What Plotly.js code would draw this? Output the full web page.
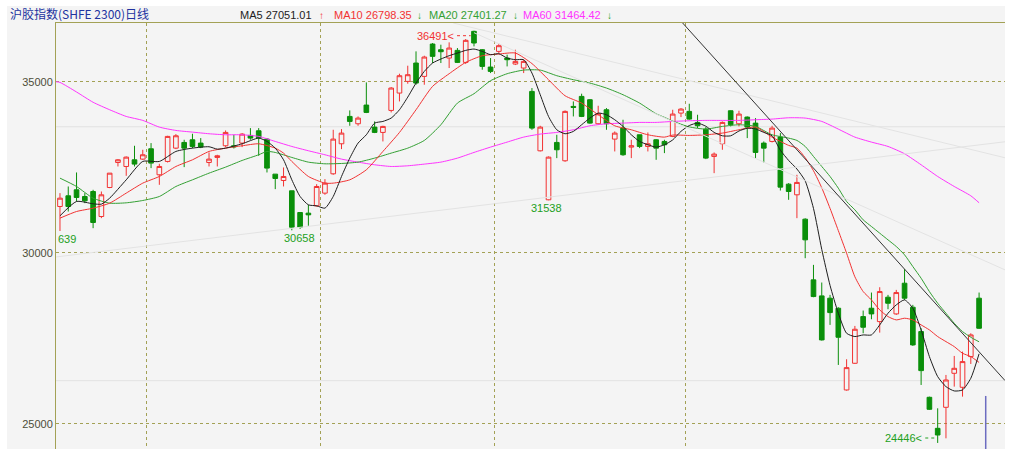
<!DOCTYPE html>
<html>
<head>
<meta charset="utf-8">
<script src="https://cdn.plot.ly/plotly-3.0.1.min.js"></script>
<style>
  html, body { margin: 0; padding: 0; background: #ffffff; }
  #chart { width: 1011px; height: 449px; }
</style>
</head>
<body>
<div id="chart"></div>
<script>
///////////////////////////////////////////////  data  /////////////////////////////////////////////////////////
// daily candles, left to right (112 days)
var openP = [
  31355,31667,31842,31647,31793,31062,31910,32641,32524,32719,
  32739,33041,32281,32671,33060,33226,33304,33207,32641,32788,
  33129,33129,33207,33431,33567,33324,32300,32115,31813,31179,
  31160,31374,31745,32310,33187,33986,33772,34318,33674,33519,
  34162,34669,35010,35546,35156,36101,35935,35692,35916,35565,
  36472,35935,35429,35887,35692,35517,35400,34717,32982,31550,
  33226,32690,34279,34571,34474,33772,34181,33324,33645,33090,
  33450,33109,33304,33255,33402,34084,34133,33811,33616,32817,
  33187,34152,33772,33967,33791,33207,33255,33382,32007,31696,
  30984,29211,28743,28675,28382,25994,26774,28138,28382,27992,
  28704,28216,29113,28411,27700,25780,24873,25487,26481,26072,
  26969,28675];
var highP = [
  31745,31939,32349,31745,31842,31793,32329,32739,32817,33129,
  33012,33207,32602,33421,33470,33304,33480,33353,32934,32866,
  33577,33450,33499,33645,33645,33353,32300,32495,31813,31179,
  31403,32007,32154,33596,33616,34162,33986,34981,33840,33713,
  34844,35234,35468,35887,35760,36131,36082,36150,35984,36248,
  36491,35955,35692,36111,35790,35935,35643,34815,33713,32817,
  33450,34162,34425,34650,34493,34298,34230,33548,33889,33304,
  33450,33518,33324,33304,34181,34230,34357,34035,33674,32934,
  33840,34162,34152,33986,33938,33255,33713,33499,32037,32281,
  31010,29649,29133,28772,28411,26891,27865,28314,28840,28996,
  28772,28918,29523,28480,27797,25799,25458,26433,26988,27115,
  27651,28840];
var lowP = [
  30639,31208,31501,31452,30721,31014,31890,32524,32251,32524,
  32719,32476,31988,32641,33031,32505,33060,33060,32524,32524,
  33090,33050,33090,33304,32836,32349,31862,31940,30658,30700,
  30789,31355,31696,32281,33031,33713,33713,34084,33499,33255,
  34103,34425,34942,34912,34912,35546,35546,35400,35546,35517,
  36033,35351,35253,35838,35448,35487,35253,33596,32963,31538,
  32768,32661,33986,33967,33772,33743,33596,32963,32836,32768,
  33060,32963,32719,32914,33382,33967,33889,33645,32739,32329,
  33012,33694,33694,33353,32768,32641,33226,31822,31550,31014,
  29844,28704,27437,27895,26725,25975,26754,27651,28060,27670,
  28353,28187,28626,27281,26140,25409,24446,24581,26092,25799,
  26754,27778];
var closeP = [
  31598,31355,31618,31520,30887,31696,32329,32719,32797,32593,
  32866,32622,32524,33402,33421,33060,33109,33090,32739,32836,
  33519,33100,33470,33353,33353,32476,32173,32232,30750,30750,
  31111,31939,32037,33324,33499,33840,33938,34103,33519,33694,
  34815,35176,35205,34961,35721,35741,35877,35984,35565,36209,
  36131,35448,35302,36053,35643,35594,35594,33645,33674,32797,
  33012,34133,34250,33986,33791,34064,33772,33499,32866,33129,
  33109,33187,33060,33158,34055,34201,33908,33713,32768,32885,
  33811,33743,34055,33674,32934,33060,33645,31920,31793,32057,
  30380,28723,27456,28255,27534,26647,27768,27826,28216,28869,
  28528,28840,28675,27310,26559,25429,24678,26286,26627,26823,
  27602,27797];

// moving averages (day index, value)
var ma5Day = [0,2,4,5,6,8,10,12,14,16,18,19,20,22,24,25,26,27,28,29,30,31,32,33,34,35,36,37,38,39,40,41,42,43,44,45,46,47,48,49,50,51,52,53,54,55,56,57,58,59,60,61,62,63,64,65,66,67,68,69,70,71,72,73,74,75,76,77,78,79,80,81,82,83,84,85,86,87,88,89,90,91,92,93,94,95,96,97,98,99,100,101,102,103,104,105,106,107,108,109,110,111];
var ma5Val = [31082,31501,31433,31423,31598,32134,32671,32671,32963,33060,33100,33030,33060,33187,33353,33255,33060,32719,32134,31647,31403,31374,31306,31647,32232,32768,33207,33450,33791,33840,33938,34181,34551,34961,35302,35546,35663,35760,35838,35916,35955,35887,35790,35819,35692,35643,35643,35253,34620,33986,33596,33480,33548,33743,33938,34084,34035,33889,33694,33450,33255,33158,33090,33158,33300,33550,33720,33790,33700,33520,33420,33420,33560,33640,33620,33520,33420,33000,32700,32450,32100,31300,30100,29050,28236,27651,27554,27602,27602,27895,28236,28480,28626,28382,27749,26969,26384,26092,25965,25994,26335,27051];

var ma10Day = [0,2,4,6,8,10,12,14,16,18,20,22,24,26,27,28,30,32,33,35,37,39,41,43,45,47,49,51,53,55,57,59,61,63,65,67,69,71,73,74,76,78,80,82,84,86,88,89,90,91,92,93,94,95,96,97,98,99,100,101,102,103,104,105,106,107,108,109,110,111];
var ma10Val = [31014,31208,31306,31452,31745,32037,32232,32524,32719,32963,33060,33129,33187,33060,32914,32671,32232,32037,32037,32134,32427,32963,33518,34181,34864,35234,35565,35760,35809,35838,35530,35059,34590,34376,34035,33713,33596,33450,33382,33441,33431,33450,33499,33596,33674,33380,33140,33060,32780,32400,31900,31300,30650,29990,29300,28870,28626,28333,28138,28041,28090,28041,27895,27749,27554,27407,27261,27066,26969,26798];

var ma20Day = [0,2,4,6,8,10,12,14,16,18,20,22,24,25,26,28,30,32,34,36,38,40,42,44,46,48,50,52,54,56,58,60,62,64,66,68,70,72,73,74,76,78,80,82,84,86,88,89,90,91,92,93,94,95,96,97,98,99,100,101,102,103,104,105,106,107,108,109,110,111];
var ma20Val = [32183,31939,31598,31452,31462,31530,31647,31939,32134,32329,32505,32700,32866,32963,32934,32788,32651,32602,32612,32651,32768,32914,33060,33285,33743,34376,34650,35030,35234,35340,35340,35176,35059,34961,34815,34620,34376,34064,33960,33850,33680,33616,33694,33743,33694,33450,33353,33285,33109,32817,32524,32232,31890,31501,31257,30965,30770,30575,30380,30185,29942,29600,29259,28869,28528,28236,27943,27700,27534,27401];

var ma60Day = [-0.48,0,2,4,6,8,10,12,14,16,18,20,22,24,26,28,30,32,34,36,38,40,42,44,46,48,50,52,54,56,58,60,62,64,66,68,70,72,74,76,78,80,82,84,86,88,90,92,94,96,98,100,102,104,106,108,110,111];
var ma60Val = [35000,34980,34700,34400,34181,33986,33870,33674,33577,33528,33480,33450,33450,33402,33255,33109,32983,32866,32739,32651,32573,32524,32544,32593,32651,32768,32934,33090,33236,33382,33470,33519,33596,33713,33772,33791,33811,33811,33840,33860,33870,33870,33870,33889,33908,33947,33938,33840,33616,33382,33236,33109,32895,32573,32232,31939,31667,31464];

// header values
var maNames  = ['MA5', 'MA10', 'MA20', 'MA60'];
var maLast   = ['27051.01', '26798.35', '27401.27', '31464.42'];
var maArrows = ['\u2191', '\u2193', '\u2193', '\u2193'];

// hand drawn lines on the chart: [day0, price0, day1, price1]
var trendBlack = [75.2, 36716, 114.13, 26269];
var trendGrey  = [[-0.48, 29880, 114.13, 33246], [50, 36433, 114.13, 29503], [47.5, 36716, 114.13, 32778]];
var flatGrey   = [33684, 26266];
var monthSplit = [10.5, 31.5, 52.5, 75.5];
var priceTicks = [25000, 30000, 35000];


///////////////////////////////////////////////  style  /////////////////////////////////////////////////////////
var OLIVE = '#a3a155';
var UP = '#f23232';
var DOWN = '#0a8f0a';
var BG = '#f4f4f4';
var FONT = 'Liberation Sans, Arial, sans-serif';
var maColors = ['#1e1e1e', '#f23232', '#33a033', '#ff33ff'];
var arrowColors = [UP, '#22a022', '#22a022', '#22a022'];

// pixel -> paper (plot box is x 56..1005, y 23..449)
function pxX(x) { return (x - 56) / 949; }
function pxY(y) { return 1 - (y - 23) / 426; }


///////////////////////////////////////////////  traces  /////////////////////////////////////////////////////////
var dayIdx = [];
for (var i = 0; i < closeP.length; i++) { dayIdx.push(i); }

var traces = [{
  type: 'candlestick',
  x: dayIdx, open: openP, high: highP, low: lowP, close: closeP,
  increasing: { line: { color: UP, width: 1 }, fillcolor: BG },
  decreasing: { line: { color: DOWN, width: 1 }, fillcolor: DOWN },
  whiskerwidth: 0,
  hoverinfo: 'skip'
}];

function maTrace(xs, ys, color) {
  return { type: 'scatter', mode: 'lines', x: xs, y: ys,
           line: { color: color, width: 1, shape: 'spline', smoothing: 0.6 }, hoverinfo: 'skip' };
}
traces.push(maTrace(ma60Day, ma60Val, maColors[3]));
traces.push(maTrace(ma20Day, ma20Val, maColors[2]));
traces.push(maTrace(ma10Day, ma10Val, maColors[1]));
traces.push(maTrace(ma5Day, ma5Val, maColors[0]));


///////////////////////////////////////////////  shapes / labels  /////////////////////////////////////////////////
var shapes = [
  // grey panel behind title and price labels
  { type: 'rect', xref: 'paper', yref: 'paper', x0: pxX(7), x1: 1, y0: 0, y1: pxY(6),
    fillcolor: BG, line: { width: 0 }, layer: 'below' }
];
flatGrey.forEach(function (p) {
  shapes.push({ type: 'line', xref: 'paper', yref: 'y', x0: 0, x1: 1, y0: p, y1: p,
                line: { color: '#e2e2e2', width: 1 }, layer: 'below' });
});
trendGrey.forEach(function (t) {
  shapes.push({ type: 'line', xref: 'x', yref: 'y', x0: t[0], y0: t[1], x1: t[2], y1: t[3],
                line: { color: '#e3e3e3', width: 1 } });
});
shapes.push({ type: 'line', xref: 'x', yref: 'y', x0: trendBlack[0], y0: trendBlack[1], x1: trendBlack[2], y1: trendBlack[3],
              line: { color: '#333333', width: 1 } });
// blue cursor mark at the right
shapes.push({ type: 'line', xref: 'x', yref: 'y', x0: 111.8, x1: 111.8, y0: 25819, y1: 24269,
              line: { color: '#6c6cc0', width: 1.5 } });
// dotted leaders of the high / low labels
shapes.push({ type: 'line', xref: 'x', yref: 'y', x0: 47.95, x1: 49.6, y0: 36345, y1: 36345,
              line: { color: UP, width: 1, dash: 'dot' } });
shapes.push({ type: 'line', xref: 'x', yref: 'y', x0: 104.5, x1: 106.0, y0: 24590, y1: 24590,
              line: { color: '#22a022', width: 1, dash: 'dot' } });

var annotations = [
  { xref: 'paper', yref: 'paper', x: pxX(8), y: pxY(13), xanchor: 'left', yanchor: 'middle', showarrow: false,
    text: '沪胶指数(SHFE 2300)日线', font: { family: 'Noto Sans CJK SC, sans-serif', size: 12, color: '#2233a0' } },
  { xref: 'x', yref: 'y', x: 47.8, y: 36345, xanchor: 'right', yanchor: 'middle', showarrow: false,
    text: '36491&lt;', font: { family: FONT, size: 11, color: UP } },
  { xref: 'x', yref: 'y', x: 104.35, y: 24590, xanchor: 'right', yanchor: 'middle', showarrow: false,
    text: '24446&lt;', font: { family: FONT, size: 11, color: '#22a022' } },
  { xref: 'x', yref: 'y', x: 58.8, y: 31316, xanchor: 'center', yanchor: 'middle', showarrow: false,
    text: '31538', font: { family: FONT, size: 11, color: '#22a022' } },
  { xref: 'x', yref: 'y', x: 28.9, y: 30439, xanchor: 'center', yanchor: 'middle', showarrow: false,
    text: '30658', font: { family: FONT, size: 11, color: '#22a022' } },
  { xref: 'x', yref: 'y', x: -0.48, y: 30410, xanchor: 'left', yanchor: 'middle', showarrow: false,
    text: '639', font: { family: FONT, size: 11, color: '#22a022' } }
];

var headLeft = [237.6, 331.8, 427, 520.5];
var arrowLeft = [316.5, 414.8, 511, 604.7];
for (var k = 0; k < maNames.length; k++) {
  annotations.push({ xref: 'paper', yref: 'paper', x: pxX(headLeft[k]), y: pxY(15.5), xanchor: 'left', yanchor: 'middle',
    showarrow: false, text: maNames[k] + ' ' + maLast[k], font: { family: FONT, size: 11, color: k === 0 ? '#222222' : maColors[k] } });
  annotations.push({ xref: 'paper', yref: 'paper', x: pxX(arrowLeft[k]), y: pxY(15.5), xanchor: 'left', yanchor: 'middle',
    showarrow: false, text: maArrows[k], font: { family: FONT, size: 10, color: arrowColors[k] } });
}


///////////////////////////////////////////////  layout  /////////////////////////////////////////////////////////
var layout = {
  width: 1011, height: 449,
  margin: { l: 56, r: 6, t: 23, b: 0, pad: 0 },
  paper_bgcolor: '#ffffff', plot_bgcolor: BG,
  showlegend: false, hovermode: false, boxgap: 0.2,
  xaxis: {
    range: [-0.48, 114.13], side: 'top', fixedrange: true,
    showline: true, linecolor: OLIVE, linewidth: 1,
    tickvals: monthSplit, showticklabels: false, ticks: '',
    showgrid: true, gridcolor: OLIVE, gridwidth: 1, griddash: 'dot', zeroline: false,
    rangeslider: { visible: false }
  },
  yaxis: {
    range: [24269, 36716], fixedrange: true,
    showline: true, linecolor: OLIVE, linewidth: 1,
    tickvals: priceTicks, ticktext: priceTicks.map(String), ticks: '',
    tickfont: { family: FONT, size: 11, color: '#4d4d38' },
    showgrid: true, gridcolor: OLIVE, gridwidth: 1, griddash: 'dot', zeroline: false
  },
  shapes: shapes,
  annotations: annotations
};

Plotly.newPlot('chart', traces, layout, { staticPlot: true, displayModeBar: false });
</script>
</body>
</html>
